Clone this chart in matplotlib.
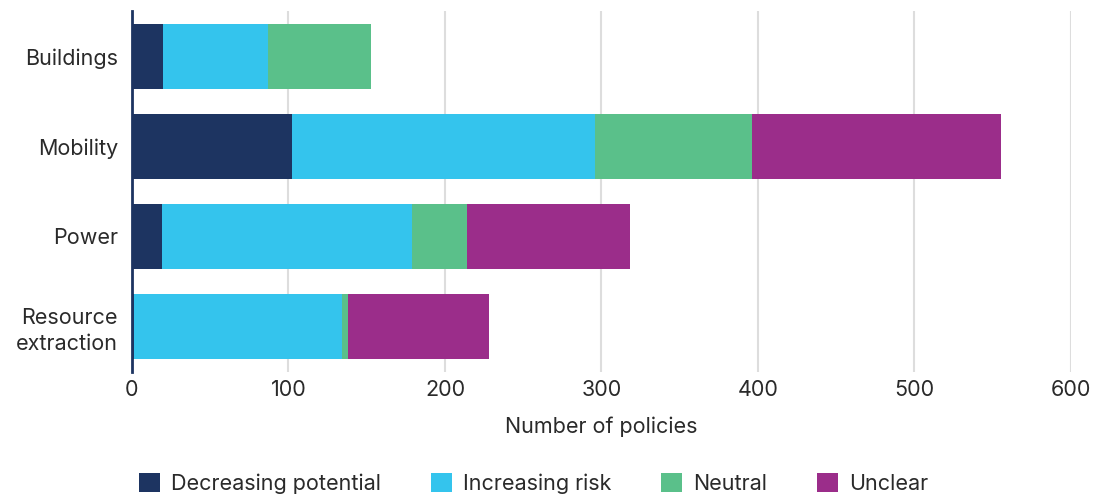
import matplotlib
matplotlib.use("Agg")
import matplotlib.pyplot as plt
import numpy as np

plt.rcParams.update({
    "font.family": ["Inter", "DejaVu Sans"],
    "font.size": 15.5,
})

categories = ["Buildings", "Mobility", "Power", "Resource\nextraction"]
series_names = ["Decreasing potential", "Increasing risk", "Neutral", "Unclear"]
decreasing = [20, 102, 19, 1]
increasing = [67, 194, 160, 133]
neutral = [66, 100, 35, 4]
unclear = [0, 159, 104, 90]
colors = ["#1D3461", "#34C4ED", "#5AC08A", "#9B2D8A"]
text_color = "#2A2A2A"

fig = plt.figure(figsize=(10.97, 4.96), dpi=100)
ax = fig.add_axes([0.1203, 0.251, 0.8560, 0.726])

y = np.arange(len(categories))
left = np.zeros(len(categories))
for name, vals, col in zip(series_names, [decreasing, increasing, neutral, unclear], colors):
    ax.barh(y, vals, height=0.72, left=left, color=col, label=name, zorder=2)
    left += np.array(vals)

ax.set_xlim(0, 600)
ax.set_ylim(3.5, -0.5)
ax.set_yticks(y)
ax.set_yticklabels(categories, linespacing=1.35)
ax.set_xticks(range(0, 601, 100))
ax.tick_params(axis="both", length=0, colors=text_color, labelsize=15.5)
ax.tick_params(axis="x", pad=6)
ax.tick_params(axis="y", pad=10)
ax.set_xlabel("Number of policies", fontsize=15.5, color=text_color, labelpad=12)
ax.xaxis.grid(True, color="#DDDDDD", linewidth=1.5, zorder=0)
ax.set_axisbelow(True)
for s in ["top", "right", "bottom"]:
    ax.spines[s].set_visible(False)
ax.spines["left"].set_color("#1D3461")
ax.spines["left"].set_linewidth(2)
ax.spines["left"].set_zorder(3)

handles, labels = ax.get_legend_handles_labels()
leg = fig.legend(handles, labels, loc="lower left", bbox_to_anchor=(0.109, -0.035), ncol=4,
                 frameon=False, fontsize=15.5, handlelength=1.0, handleheight=1.0,
                 columnspacing=2.3, handletextpad=0.5)
for t in leg.get_texts():
    t.set_color(text_color)

fig.savefig("out.png", dpi=100)
